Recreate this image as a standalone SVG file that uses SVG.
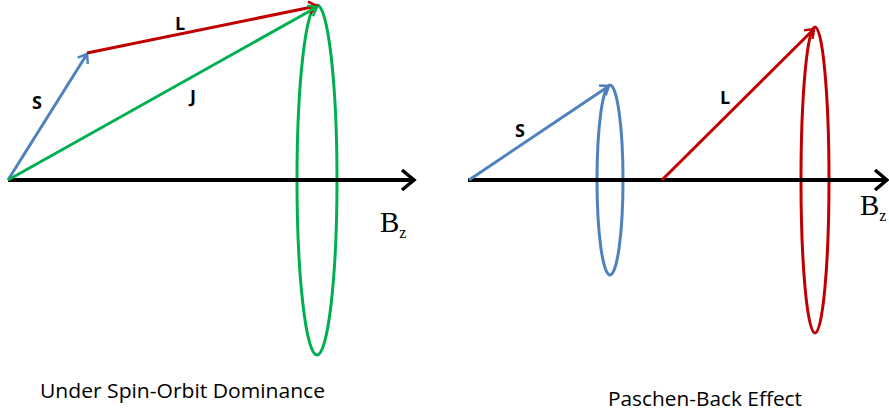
<svg xmlns="http://www.w3.org/2000/svg" width="889" height="416" viewBox="0 0 889 416">
<defs>
<style>
.axis{stroke:#000;stroke-width:4;fill:none}
.s{stroke:#4f81bd;stroke-width:3;fill:none}
.l{stroke:#c00000;stroke-width:3;fill:none}
.j{stroke:#00b050;stroke-width:3;fill:none}
.lbl{font-family:"Open Sans","Liberation Sans",sans-serif;font-weight:bold;font-size:18px;fill:#000}
.bz{font-family:"Liberation Serif",serif;font-size:29px;fill:#000}
.sub{font-family:"Liberation Serif",serif;font-size:16px;fill:#000}
.cap{font-family:"Open Sans","Liberation Sans",sans-serif;font-size:20px;fill:#000}
</style>
<marker id="ax" markerUnits="userSpaceOnUse" markerWidth="20" markerHeight="24" refX="16" refY="12" orient="auto" viewBox="0 0 20 24">
<path d="M4,2 L16,12 L4,22" fill="none" stroke="#000" stroke-width="3.5"/>
</marker>
<marker id="ab" markerUnits="userSpaceOnUse" markerWidth="14" markerHeight="16" refX="11" refY="8" orient="auto" viewBox="0 0 14 16">
<path d="M3,2 L11,8 L3,14" fill="none" stroke="#4f81bd" stroke-width="2.5"/>
</marker>
<marker id="ar" markerUnits="userSpaceOnUse" markerWidth="14" markerHeight="16" refX="11" refY="8" orient="auto" viewBox="0 0 14 16">
<path d="M3,2 L11,8 L3,14" fill="none" stroke="#c00000" stroke-width="2.5"/>
</marker>
<marker id="ag" markerUnits="userSpaceOnUse" markerWidth="14" markerHeight="16" refX="11" refY="8" orient="auto" viewBox="0 0 14 16">
<path d="M3,2 L11,8 L3,14" fill="none" stroke="#00b050" stroke-width="2.5"/>
</marker>
</defs>
<rect width="889" height="416" fill="#fff"/>
<g id="cone-left">
<ellipse cx="317" cy="180" rx="20" ry="175" class="j"/>
</g>
<g id="cone-right-s">
<ellipse cx="610" cy="180" rx="13" ry="95" class="s"/>
</g>
<g id="cone-right-l">
<ellipse cx="815" cy="180" rx="14" ry="153" class="l"/>
</g>
<g id="connectors">
<line x1="8" y1="180" x2="414" y2="180" class="axis" marker-end="url(#ax)"/>
<line x1="468" y1="180" x2="887" y2="180" class="axis" marker-end="url(#ax)"/>
<line x1="8" y1="180" x2="87" y2="54" class="s" marker-end="url(#ab)"/>
<line x1="87" y1="53" x2="317" y2="6" class="l" marker-end="url(#ar)"/>
<line x1="8" y1="180" x2="317" y2="7" class="j" marker-end="url(#ag)"/>
<line x1="469" y1="180" x2="609" y2="86" class="s" marker-end="url(#ab)"/>
<line x1="662" y1="180" x2="814" y2="29" class="l" marker-end="url(#ar)"/>
</g>
<g id="labels">
<text x="32" y="109" class="lbl">S</text>
<text x="175" y="30" class="lbl">L</text>
<text x="190" y="103" class="lbl">J</text>
<text x="515" y="137" class="lbl">S</text>
<text x="720" y="104" class="lbl">L</text>
<text x="380" y="232" class="bz">B<tspan class="sub" dy="6">z</tspan></text>
<text x="860" y="215" class="bz">B<tspan class="sub" dy="6">z</tspan></text>
<text x="40" y="398" class="cap" textLength="285" lengthAdjust="spacingAndGlyphs">Under Spin-Orbit Dominance</text>
<text x="608" y="406" class="cap" textLength="194" lengthAdjust="spacingAndGlyphs">Paschen-Back Effect</text>
</g>
</svg>
